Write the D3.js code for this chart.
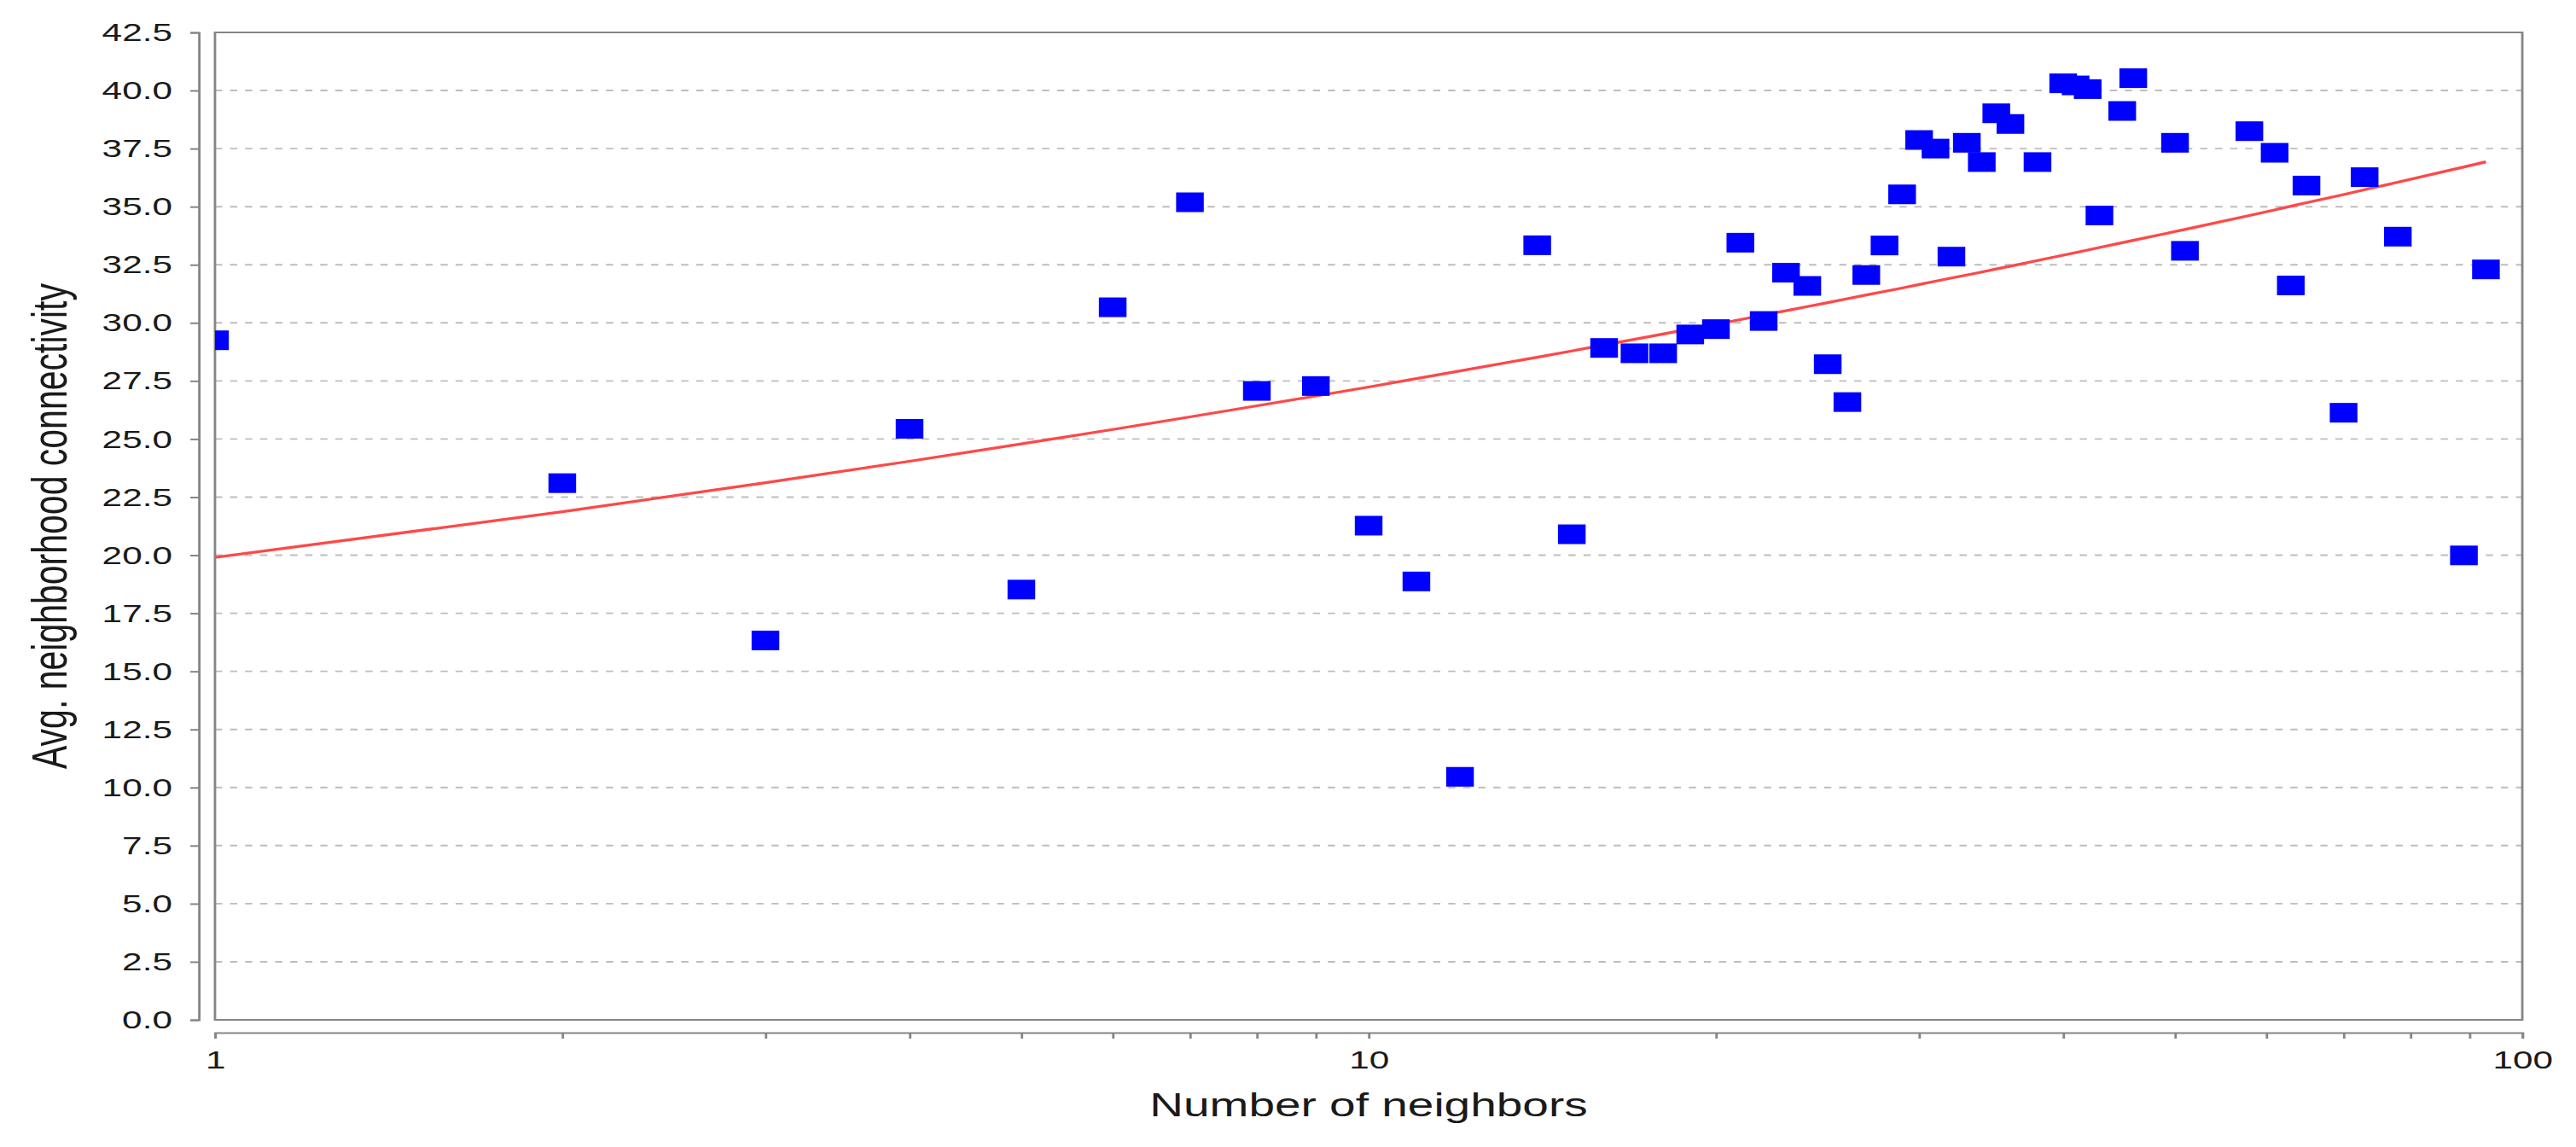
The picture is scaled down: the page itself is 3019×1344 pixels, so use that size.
<!DOCTYPE html>
<html>
<head>
<meta charset="utf-8">
<script src="https://cdn.jsdelivr.net/npm/d3@7"></script>
<style>
  body { margin: 0; background: #fff; }
  svg { display: block; }
  .axis text { font-family: "Liberation Sans", Arial, sans-serif; fill: #1a1a1a; }
</style>
</head>
<body>
<div id="chart"></div>
<script>
// number of neighbors (x) and avg. neighborhood connectivity (y)
const neighbors = [1, 2, 3, 4, 5, 6, 7, 8, 9, 10, 11, 12, 14, 15, 16, 17, 18, 19, 20, 21,
  22, 23, 24, 25, 26, 27, 28, 29, 30, 31, 32, 33, 34, 35, 36, 38, 40, 41, 42, 43,
  45, 46, 50, 51, 58, 61, 63, 65, 70, 73, 78, 89, 93];
const connectivity = [29.25, 23.10, 16.33, 25.44, 18.52, 30.67, 35.19, 27.07, 27.28, 21.27,
  18.87, 10.46, 33.34, 20.90, 28.92, 28.69, 28.69, 29.50, 29.73, 33.45,
  30.08, 32.16, 31.59, 28.22, 26.59, 32.06, 33.33, 35.53, 37.87, 37.50,
  32.85, 37.75, 36.92, 39.02, 38.56, 36.92, 40.31, 40.22, 40.06, 34.62,
  39.12, 40.53, 37.75, 33.10, 38.25, 37.32, 31.61, 35.91, 26.13, 36.27,
  33.71, 19.99, 32.30];
// fitted (power law) line, value at each x above
const fitValues = [19.90, 21.87, 23.12, 24.04, 24.79, 25.41, 25.95, 26.43, 26.85, 27.24,
  27.60, 27.93, 28.52, 28.79, 29.05, 29.29, 29.52, 29.74, 29.94, 30.14,
  30.34, 30.52, 30.70, 30.87, 31.04, 31.20, 31.35, 31.50, 31.65, 31.79,
  31.93, 32.06, 32.19, 32.32, 32.44, 32.68, 32.91, 33.02, 33.13, 33.24,
  33.45, 33.55, 33.93, 34.02, 34.62, 34.86, 35.02, 35.17, 35.52, 35.73,
  36.05, 36.71, 36.93];

const yTicks = [0, 2.5, 5, 7.5, 10, 12.5, 15, 17.5, 20, 22.5, 25, 27.5, 30, 32.5, 35, 37.5, 40, 42.5];
const xTicks = [1, 2, 3, 4, 5, 6, 7, 8, 9, 10, 20, 30, 40, 50, 60, 70, 80, 90, 100];
const xLabels = [1, 10, 100];

// the picture is stretched sideways, so draw in a narrower box and let the svg stretch it
const stretch = 1.41;
const W = 3019 / stretch, H = 1344;
const plot = { left: 178.7, right: 2096.5, top: 38, bottom: 1195 };

const svg = d3.select("#chart").append("svg")
  .attr("width", 3019)
  .attr("height", 1344)
  .attr("viewBox", `0 0 ${W} ${H}`)
  .attr("preserveAspectRatio", "none");

const x = d3.scaleLog().domain([1, 100]).range([plot.left, plot.right]);
const y = d3.scaleLinear().domain([0, 42.5]).range([plot.bottom, plot.top]);

svg.append("clipPath").attr("id", "plotClip")
  .append("rect")
  .attr("x", plot.left).attr("y", plot.top)
  .attr("width", plot.right - plot.left)
  .attr("height", plot.bottom - plot.top);

// horizontal grid
svg.append("g")
  .selectAll("line")
  .data(yTicks)
  .join("line")
  .attr("x1", plot.left)
  .attr("x2", plot.right)
  .attr("y1", d => y(d))
  .attr("y2", d => y(d))
  .attr("stroke", "#bdbdbd")
  .attr("stroke-width", 1.9)
  .attr("stroke-dasharray", "6,6.5");

// plot frame
svg.append("rect")
  .attr("x", plot.left).attr("y", plot.top)
  .attr("width", plot.right - plot.left)
  .attr("height", plot.bottom - plot.top)
  .attr("fill", "none")
  .attr("stroke", "#858585")
  .attr("stroke-width", 2);

// axes sit a little away from the frame
const yAxis = d3.axisLeft(y)
  .tickValues(yTicks)
  .tickFormat(d3.format(".1f"))
  .tickSize(7)
  .tickPadding(15);

const gy = svg.append("g")
  .attr("class", "axis")
  .attr("transform", `translate(${plot.left - 13.5},0)`)
  .call(yAxis);

const xAxis = d3.axisBottom(x)
  .tickValues(xTicks)
  .tickFormat(d => xLabels.includes(d) ? d : "")
  .tickSize(7)
  .tickPadding(14);

const gx = svg.append("g")
  .attr("class", "axis")
  .attr("transform", `translate(0,${plot.bottom + 15})`)
  .call(xAxis);

[gx, gy].forEach(g => {
  g.attr("font-size", 30).attr("font-family", null);
  g.selectAll(".domain, .tick line")
    .attr("stroke", "#858585")
    .attr("stroke-width", 2);
});

// axis titles
svg.append("text")
  .attr("x", (plot.left + plot.right) / 2)
  .attr("y", 1308)
  .attr("text-anchor", "middle")
  .attr("font-size", 39)
  .style("font-family", '"Liberation Sans", Arial, sans-serif')
  .attr("fill", "#1a1a1a")
  .text("Number of neighbors");

svg.append("text")
  .attr("transform", `translate(55,${(plot.top + plot.bottom) / 2}) rotate(-90)`)
  .attr("text-anchor", "middle")
  .attr("font-size", 41)
  .style("font-family", '"Liberation Sans", Arial, sans-serif')
  .attr("fill", "#1a1a1a")
  .text("Avg. neighborhood connectivity");

const points = neighbors.map((n, i) => ({ n: n, c: connectivity[i], f: fitValues[i] }));

const marks = svg.append("g").attr("clip-path", "url(#plotClip)");

// fitted line
const fitLine = d3.line()
  .x(d => x(d.n))
  .y(d => y(d.f));

marks.append("path")
  .datum(points)
  .attr("d", fitLine)
  .attr("fill", "none")
  .attr("stroke", "#ff4848")
  .attr("stroke-width", 3.2);

// square markers
const size = 23;
marks.selectAll("rect.pt")
  .data(points)
  .join("rect")
  .attr("class", "pt")
  .attr("x", d => x(d.n) - size / 2)
  .attr("y", d => y(d.c) - size / 2)
  .attr("width", size)
  .attr("height", size)
  .attr("fill", "#0000ff");
</script>
</body>
</html>
